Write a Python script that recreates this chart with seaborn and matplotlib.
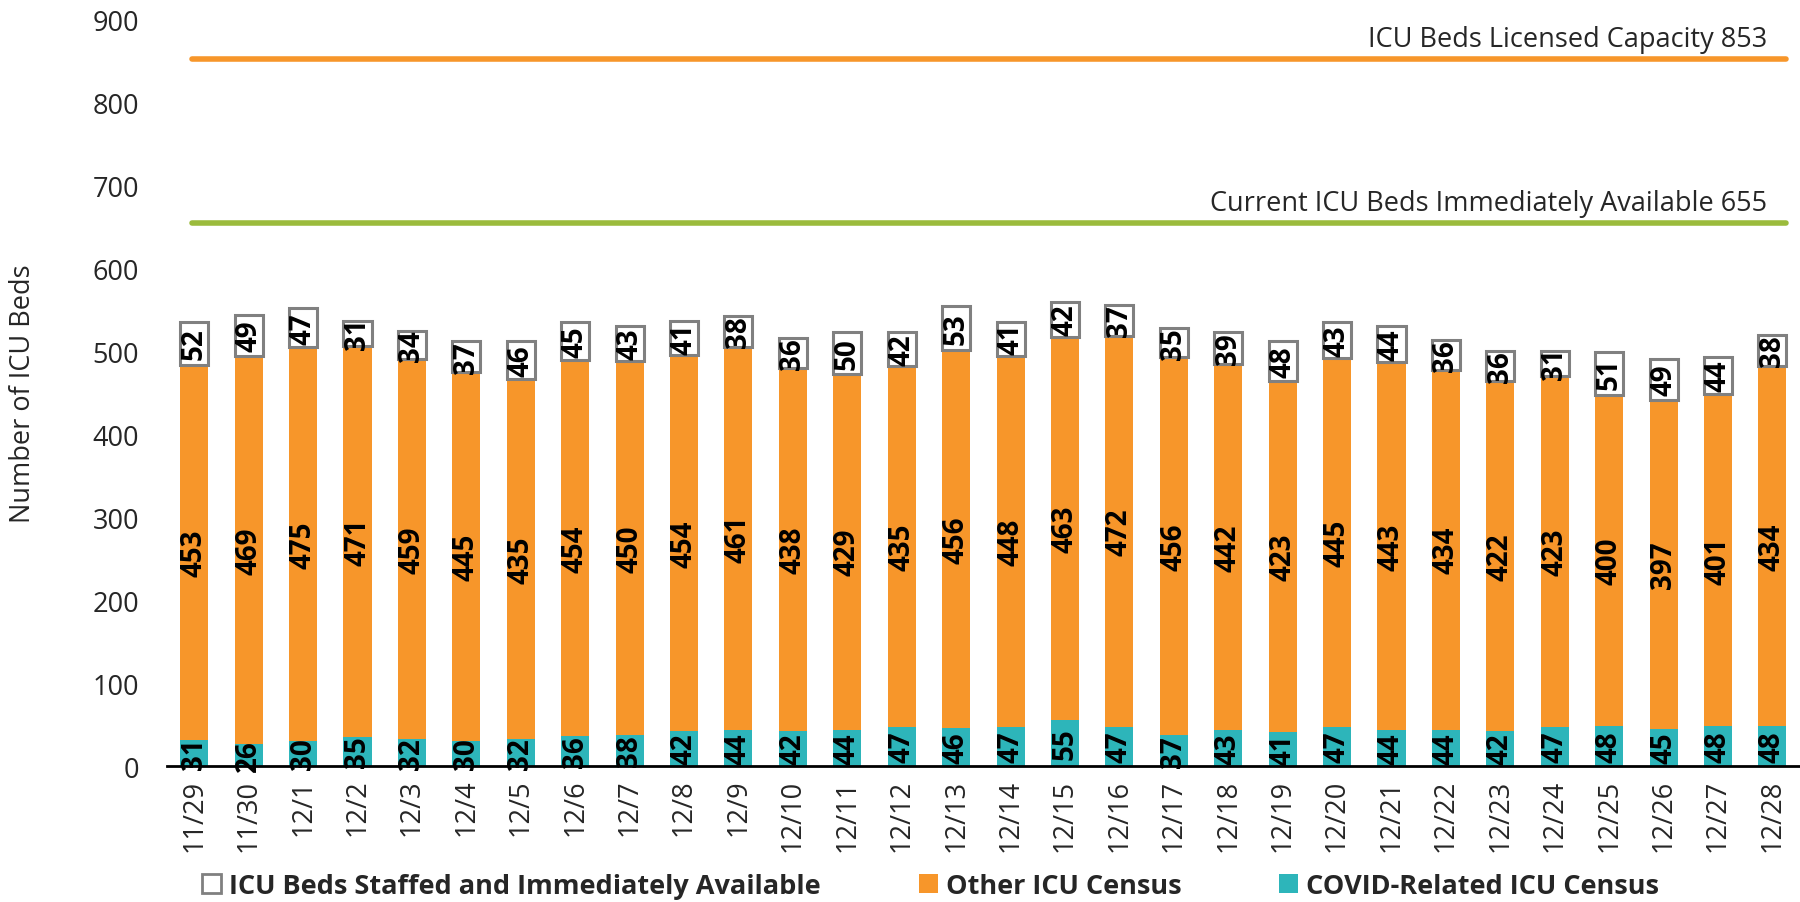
import matplotlib
matplotlib.use("Agg")
import matplotlib.pyplot as plt
import seaborn as sns
import pandas as pd
import numpy as np
from matplotlib.patches import Patch

dates = ["11/29", "11/30"] + [f"12/{d}" for d in range(1, 29)]
covid = [31, 26, 30, 35, 32, 30, 32, 36, 38, 42, 44, 42, 44, 47, 46, 47, 55, 47, 37, 43,
         41, 47, 44, 44, 42, 47, 48, 45, 48, 48]
other = [453, 469, 475, 471, 459, 445, 435, 454, 450, 454, 461, 438, 429, 435, 456, 448, 463,
         472, 456, 442, 423, 445, 443, 434, 422, 423, 400, 397, 401, 434]
available = [52, 49, 47, 31, 34, 37, 46, 45, 43, 41, 38, 36, 50, 42, 53, 41, 42, 37, 35, 39,
             48, 43, 44, 36, 36, 31, 51, 49, 44, 38]
licensed_capacity = 853
immediately_available = 655
yticks = [0, 100, 200, 300, 400, 500, 600, 700, 800, 900]
legend_labels = ["ICU Beds Staffed and Immediately Available", "Other ICU Census",
                 "COVID-Related ICU Census"]
cap_label = "ICU Beds Licensed Capacity 853"
avail_label = "Current ICU Beds Immediately Available 655"

ORANGE = "#F7962A"
TEAL = "#2DB5BA"
GREEN = "#9BBB3C"
GREY = "#808080"

sns.set_theme(style="white")
plt.rcParams['font.family'] = ['Open Sans', 'DejaVu Sans']

fig = plt.figure(figsize=(18, 9.03), dpi=100)
ax = fig.add_axes([0.0928, 0.1506, 0.907, 0.8264])

df = pd.DataFrame({"date": dates, "covid": covid, "other": other, "available": available})
bw = 0.515
base2 = np.array(covid)
base3 = np.array(covid) + np.array(other)

sns.barplot(data=df, x="date", y="covid", order=dates, color=TEAL, width=bw, ax=ax,
            saturation=1, errorbar=None, edgecolor="none", linewidth=0)
sns.barplot(data=df, x="date", y="other", order=dates, color=ORANGE, width=bw, ax=ax,
            saturation=1, errorbar=None, edgecolor="none", linewidth=0, bottom=base2)
sns.barplot(data=df, x="date", y="available", order=dates, color="white", width=bw, ax=ax,
            saturation=1, errorbar=None, edgecolor=GREY, linewidth=2.2, bottom=base3)

for cont, vals in zip(ax.containers, [covid, other, available]):
    ax.bar_label(cont, labels=[str(v) for v in vals], label_type="center", rotation=90,
                 fontsize=20, fontweight="bold", color="black")

x0, x1 = -0.05, 29.25
ax.plot([x0, x1], [licensed_capacity] * 2, color=ORANGE, lw=4, solid_capstyle="round")
ax.plot([x0, x1], [immediately_available] * 2, color=GREEN, lw=4, solid_capstyle="round")
ax.text(28.9, licensed_capacity + 7, cap_label, ha="right", va="bottom", fontsize=19.5)
ax.text(28.9, immediately_available + 7, avail_label, ha="right", va="bottom", fontsize=19.5)

ax.set_xlim(-0.5, 29.5)
ax.set_ylim(0, 900)
ax.set_yticks(yticks)
ax.set_yticklabels([str(t) for t in yticks], fontsize=19.5)
ax.set_xticks(range(len(dates)))
ax.set_xticklabels(dates, rotation=90, fontsize=19.5)
ax.tick_params(axis="y", length=0, pad=20)
ax.tick_params(axis="x", length=0, pad=9)
ax.set_xlabel("")
ax.set_ylabel("Number of ICU Beds", fontsize=19.5, labelpad=40)
for s in ["left", "top", "right"]:
    ax.spines[s].set_visible(False)
ax.spines["bottom"].set_color("black")
ax.spines["bottom"].set_linewidth(2)
ax.grid(False)

handles = [Patch(facecolor="white", edgecolor=GREY, linewidth=2),
           Patch(facecolor=ORANGE, edgecolor="none"),
           Patch(facecolor=TEAL, edgecolor="none")]
leg = fig.legend(handles, legend_labels, loc="center", bbox_to_anchor=(0.517, 0.018), ncol=3,
                 frameon=False, prop={"size": 19.5, "weight": "bold"}, handlelength=0.7,
                 handleheight=0.7, handletextpad=0.3, columnspacing=3.6)

fig.savefig("out.png", dpi=100)
